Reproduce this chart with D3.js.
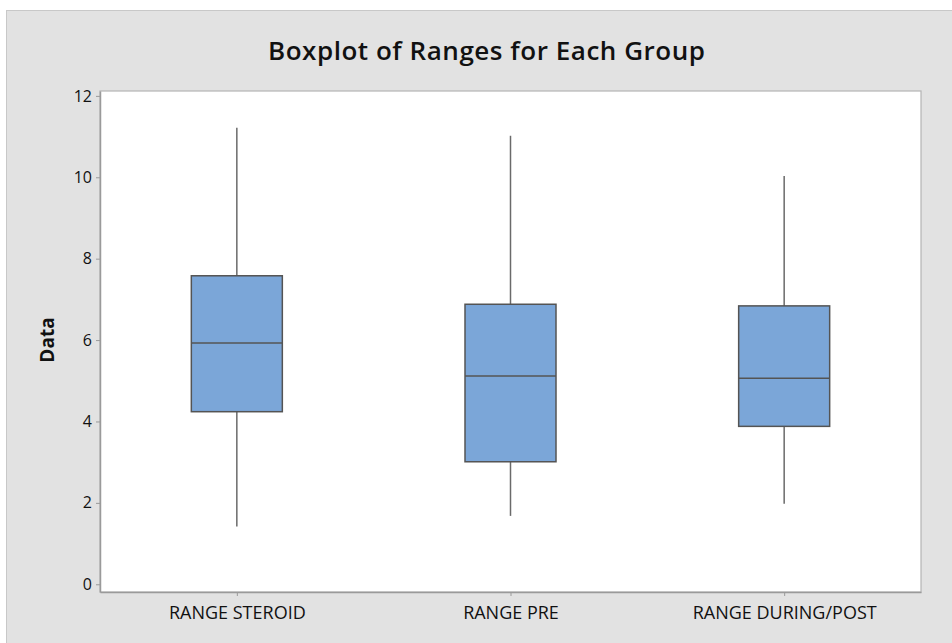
<!DOCTYPE html>
<html>
<head>
<meta charset="utf-8">
<script src="https://cdn.jsdelivr.net/npm/d3@7"></script>
<style>
  html, body { margin: 0; padding: 0; background: #ffffff; }
  svg { display: block; }
</style>
</head>
<body>
<svg id="chart" width="952" height="643"></svg>
<script>
// Groups and five-number summaries for each group
const groups = ["RANGE STEROID", "RANGE PRE", "RANGE DURING/POST"];
const whiskerLow  = [1.42, 1.68, 1.98];
const q1          = [4.24, 3.01, 3.88];
const medians     = [5.93, 5.12, 5.06];
const q3          = [7.58, 6.88, 6.84];
const whiskerHigh = [11.22, 11.02, 10.03];
const yTicks = [0, 2, 4, 6, 8, 10, 12];

const svg = d3.select("#chart");
const W = 952, H = 643;
const FONT = "'Open Sans', 'Noto Sans', sans-serif";

// Figure panel
svg.append("rect")
  .attr("x", 6.5).attr("y", 10.5)
  .attr("width", W - 6).attr("height", H - 10)
  .attr("fill", "#e2e2e2")
  .attr("stroke", "#c8c8c8");

const plot = { left: 100, top: 91, right: 921, bottom: 592 };

// Plot area background
svg.append("rect")
  .attr("x", plot.left).attr("y", plot.top)
  .attr("width", plot.right - plot.left).attr("height", plot.bottom - plot.top)
  .attr("fill", "#ffffff")
  .attr("stroke", "#b4b4b4")
  .attr("stroke-width", 1.2);

const y = d3.scaleLinear()
  .domain([-0.19, 12.12])
  .range([plot.bottom, plot.top]);

const x = d3.scalePoint()
  .domain(groups)
  .range([plot.left, plot.right])
  .padding(0.5);

// Axes
const yAxis = svg.append("g")
  .attr("transform", `translate(${plot.left},0)`)
  .call(d3.axisLeft(y).tickValues(yTicks).tickSize(4).tickSizeOuter(0).tickPadding(4));
const xAxis = svg.append("g")
  .attr("transform", `translate(0,${plot.bottom})`)
  .call(d3.axisBottom(x).tickSize(4).tickSizeOuter(0).tickPadding(10.5));

[yAxis, xAxis].forEach(g => {
  g.select(".domain").attr("stroke", "#9a9a9a").attr("stroke-width", 1.5);
  g.selectAll(".tick line").attr("stroke", "#9a9a9a");
  g.selectAll(".tick text")
    .attr("fill", "#111")
    .style("font-family", FONT);
});
yAxis.selectAll(".tick text").style("font-size", "16px");
xAxis.selectAll(".tick text").style("font-size", "18px");

// Boxplots
const boxW = 91;
const data = groups.map((g, i) => ({
  g, lo: whiskerLow[i], q1: q1[i], med: medians[i], q3: q3[i], hi: whiskerHigh[i]
}));

const box = svg.append("g").selectAll("g").data(data).join("g");

box.append("line")
  .attr("x1", d => x(d.g)).attr("x2", d => x(d.g))
  .attr("y1", d => y(d.hi)).attr("y2", d => y(d.q3))
  .attr("stroke", "#6a6a6a").attr("stroke-width", 1.5);
box.append("line")
  .attr("x1", d => x(d.g)).attr("x2", d => x(d.g))
  .attr("y1", d => y(d.q1)).attr("y2", d => y(d.lo))
  .attr("stroke", "#6a6a6a").attr("stroke-width", 1.5);
box.append("rect")
  .attr("x", d => x(d.g) - boxW / 2)
  .attr("y", d => y(d.q3))
  .attr("width", boxW)
  .attr("height", d => y(d.q1) - y(d.q3))
  .attr("fill", "#7ba6d8")
  .attr("stroke", "#545454")
  .attr("stroke-width", 1.5);
box.append("line")
  .attr("x1", d => x(d.g) - boxW / 2).attr("x2", d => x(d.g) + boxW / 2)
  .attr("y1", d => y(d.med)).attr("y2", d => y(d.med))
  .attr("stroke", "#545454").attr("stroke-width", 1.5);

// Title
svg.append("text")
  .attr("x", 486.5).attr("y", 60)
  .attr("text-anchor", "middle")
  .attr("fill", "#111")
  .attr("textLength", 437)
  .attr("lengthAdjust", "spacing")
  .style("font-family", FONT)
  .style("font-weight", 600)
  .style("font-size", "26px")
  .text("Boxplot of Ranges for Each Group");

// Y axis title
svg.append("text")
  .attr("transform", "translate(54,340) rotate(-90)")
  .attr("text-anchor", "middle")
  .attr("fill", "#111")
  .style("font-family", FONT)
  .style("font-weight", "bold")
  .style("font-size", "19px")
  .text("Data");
</script>
</body>
</html>
